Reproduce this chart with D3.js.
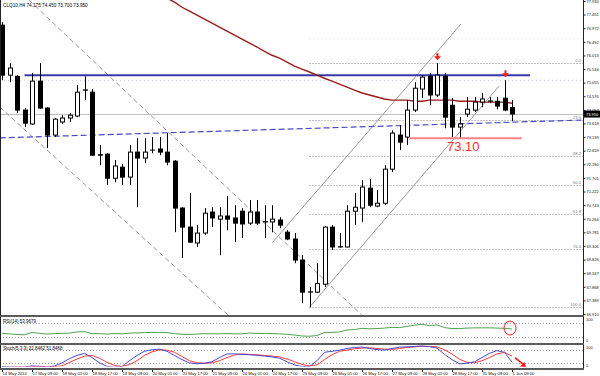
<!DOCTYPE html>
<html>
<head>
<meta charset="utf-8">
<style>
  body { margin: 0; background: #fff; }
  svg { display: block; font-family: "Liberation Sans", Arial, sans-serif; }
</style>
</head>
<body>
<script src="https://cdn.jsdelivr.net/npm/d3@7/dist/d3.min.js"></script>
<script>

// *** DATA ***

// CLQ10 H4 candles, one entry per bar (index 0 = 14 May 2010)
var opens  = [77.08,75.32,75.28,74.09,73.60,75.11,74.16,73.21,73.67,73.81,73.88,74.79,74.72,72.50,72.54,71.69,72.08,71.73,72.61,72.40,72.68,72.72,72.61,72.29,70.64,69.97,69.41,69.76,70.50,70.25,70.36,70.29,70.53,70.11,70.50,70.15,70.15,70.22,69.79,69.55,68.81,67.68,67.68,67.96,69.97,69.27,69.27,70.53,70.64,71.34,70.71,70.81,72.01,73.21,73.14,74.09,74.83,75.28,74.62,75.28,74.26,73.49,73.95,74.09,74.37,74.40,74.40,74.51,74.175];
var highs  = [77.19,75.74,75.32,74.16,75.39,75.74,74.19,73.81,73.91,73.98,74.97,75.28,74.83,72.86,72.56,72.33,72.19,72.86,73.10,73.10,73.14,73.14,73.28,72.33,70.67,71.17,70.04,70.64,70.67,70.67,71.06,70.74,70.64,70.92,70.92,70.74,70.74,70.32,69.86,69.76,68.98,67.86,68.70,70.01,70.04,69.76,70.74,71.17,71.62,71.66,71.27,72.15,73.38,73.56,74.44,75.07,75.32,75.39,75.74,75.39,74.51,73.84,74.55,74.55,74.69,74.55,74.55,75.14,74.45];
var lows   = [75.14,75.07,73.98,73.49,73.56,74.12,72.75,73.14,73.60,73.67,73.84,74.44,72.47,72.15,71.45,71.55,71.45,71.45,70.67,72.22,72.57,72.50,72.15,69.79,68.88,69.41,69.27,69.69,69.97,68.98,69.86,69.44,69.58,70.04,70.04,69.58,69.79,69.93,69.51,68.70,67.29,67.15,67.65,67.86,69.16,69.25,69.25,70.04,70.15,70.67,70.67,70.74,71.91,72.68,72.86,74.02,74.51,74.26,74.55,73.45,73.14,73.10,73.84,74.02,74.19,74.33,74.12,74.05,73.70];
var closes = [75.32,75.57,74.09,73.63,75.11,74.16,73.21,73.77,73.81,73.91,74.72,74.80,72.50,72.52,71.69,72.12,71.73,72.61,72.40,72.61,72.68,72.61,72.26,70.64,69.97,69.44,69.76,70.46,70.29,70.36,70.25,70.11,70.08,70.50,70.11,70.16,70.25,70.04,69.55,68.81,67.68,67.69,67.98,69.97,69.27,69.28,70.53,70.67,71.38,70.74,70.81,72.01,73.28,72.96,74.09,74.86,75.25,74.62,75.32,73.84,73.49,73.60,74.12,74.37,74.48,74.41,74.23,74.09,73.95];

// moving average (dark red), starts at bar 22
var maStart = 22;
var maValues = [78.03,77.89,77.71,77.57,77.43,77.29,77.15,77.01,76.87,76.73,76.59,76.45,76.31,76.16,76.02,75.92,75.78,75.64,75.53,75.43,75.32,75.21,75.11,75.00,74.90,74.79,74.69,74.62,74.55,74.48,74.44,74.44,74.44,74.40,74.40,74.44,74.44,74.44,74.44,74.40,74.40,74.40,74.37,74.37,74.37,74.37,74.33];

// RSI(14)
var rsiValues = [36,34,31,30,40,36,33,35,36,37,42,43,35,35,33,35,34,37,38,39,40,40,39,35,32,31,33,35,34,34,35,34,34,37,36,35,35,34,32,29,25,24,27,40,40,42,50,52,57,55,56,58,61,60,65,70,74,68,71,60,56,56,58,59,59,59,58,57,54];

// Stoch(5,3,3) main and signal
var stochMain   = [2,0,0,0,5,3,0,5,20,40,55,65,45,20,3,0,2,30,55,75,82,85,75,55,35,20,15,18,25,45,62,63,60,58,56,52,48,42,25,10,2,2,30,70,75,80,88,93,95,88,83,80,88,95,96,98,100,97,90,60,35,15,18,25,45,65,78,70,23];
var stochSignal = [0,0,0,0,2,3,2,2,5,22,38,52,55,42,22,8,2,12,30,55,72,82,80,70,50,30,20,18,20,30,45,57,62,60,58,55,52,48,38,25,12,5,10,35,58,75,80,87,90,92,88,85,84,88,93,96,98,98,96,82,62,37,22,20,30,45,62,70,52];

// price axis labels
var priceTicks = [66.910,67.389,67.868,68.347,68.826,69.306,69.785,70.264,70.743,71.222,71.701,72.180,72.659,73.139,73.618,74.097,74.576,75.055,75.534,76.013,76.492,76.972,77.451,77.930];

// time axis labels, every 4 bars
var timeLabels = ["14 May 2010","17 May 09:00","18 May 01:00","18 May 17:00","19 May 09:00","20 May 01:00","20 May 17:00","21 May 09:00","24 May 01:00","24 May 17:00","25 May 09:00","26 May 01:00","26 May 17:00","27 May 09:00","28 May 01:00","28 May 17:00","31 May 09:00","1 Jun 09:00"];

// Fibonacci retracement
var fibHigh = 75.76, fibLow = 67.15, fibStart = 41;
var fibLevels = [0, 23.6, 38.2, 50.0, 61.8, 76.4, 100.0];

// drawn objects (bar index, price)
var upChannel   = [{i1: 36, p1: 69.41, i2: 61.2, p2: 77.12}, {i1: 41, p1: 67.15, i2: 66.3, p2: 74.94}];
var downChannel = [{i1: 3.6, p1: 77.96, i2: 48.1, p2: 66.84}, {i1: -0.3, p1: 74.20, i2: 30.1, p2: 66.88}];
var longTrend   = {i1: -0.3, p1: 73.11, i2: 77.5, p2: 73.74};
var resistance  = {i1: 3, i2: 70.4, p: 75.32};
var support     = {i1: 54.3, i2: 69.3, p: 73.10};
var arrowBars   = [58, 67];

// *** LAYOUT ***

var W = 600, H = 376;
var plotR = 583;
var mainTop = 0, mainBot = 315;
var rsiTop = 318, rsiBot = 343;
var stTop = 345, stBot = 368;

var x = d3.scaleLinear().domain([0, 68]).range([2, 512]);
var y = d3.scaleLinear().domain([66.91, 77.93]).range([314, 1]);
var yR = d3.scaleLinear().domain([0, 100]).range([342, 318]);
var yS = d3.scaleLinear().domain([0, 100]).range([367, 346]);

var svg = d3.select("body").append("svg")
	.attr("width", W)
	.attr("height", H);

svg.append("rect").attr("width", W).attr("height", H).attr("fill", "#fff");

var defs = svg.append("defs");
defs.append("clipPath").attr("id", "clipMain")
	.append("rect").attr("x", 1).attr("y", mainTop).attr("width", plotR - 1).attr("height", mainBot - mainTop);
defs.append("clipPath").attr("id", "clipRsi")
	.append("rect").attr("x", 1).attr("y", rsiTop).attr("width", plotR - 1).attr("height", rsiBot - rsiTop);
defs.append("clipPath").attr("id", "clipSt")
	.append("rect").attr("x", 1).attr("y", stTop).attr("width", plotR - 1).attr("height", 21.6);

var gMain = svg.append("g").attr("clip-path", "url(#clipMain)");

function seg(g, o, color, width, dash) {
	g.append("line")
		.attr("x1", x(o.i1)).attr("y1", y(o.p1))
		.attr("x2", x(o.i2)).attr("y2", y(o.p2))
		.attr("stroke", color).attr("stroke-width", width)
		.attr("stroke-dasharray", dash || null);
}

// faint dotted object lines
gMain.append("line")
	.attr("x1", 0).attr("x2", plotR).attr("y1", y(75.14)).attr("y2", y(75.14))
	.attr("stroke", "#c4c4e6").attr("stroke-width", 1).attr("stroke-dasharray", "1,3");
gMain.append("line")
	.attr("x1", x(fibStart)).attr("x2", plotR).attr("y1", y(76.6)).attr("y2", y(76.6))
	.attr("stroke", "#d0d0ea").attr("stroke-width", 1).attr("stroke-dasharray", "1,3");

// fibonacci levels
fibLevels.forEach(function(lv) {
	var p = fibHigh - (fibHigh - fibLow) * lv / 100;
	var yy = Math.round(y(p)) + 0.5;
	gMain.append("line")
		.attr("x1", x(fibStart)).attr("x2", plotR).attr("y1", yy).attr("y2", yy)
		.attr("stroke", "#8a8a8a").attr("stroke-width", 1).attr("stroke-dasharray", "1,2");
	gMain.append("text")
		.attr("x", plotR - 2).attr("y", yy - 1.5)
		.attr("text-anchor", "end")
		.attr("font-size", 4.2).attr("fill", "#777")
		.text(lv.toFixed(1));
});

// bid line
gMain.append("line")
	.attr("x1", 0).attr("x2", plotR)
	.attr("y1", Math.round(y(closes[closes.length - 1])) + 0.5)
	.attr("y2", Math.round(y(closes[closes.length - 1])) + 0.5)
	.attr("stroke", "#c0c0c0").attr("stroke-width", 1);

// channels and trend lines
downChannel.forEach(function(o) { seg(gMain, o, "#9a9a9a", 1, "5,3"); });
upChannel.forEach(function(o) { seg(gMain, o, "#9a9a9a", 1); });
seg(gMain, longTrend, "#4a4ac4", 1.2, "6,3");

// resistance
gMain.append("line")
	.attr("x1", x(resistance.i1)).attr("x2", x(resistance.i2))
	.attr("y1", y(resistance.p)).attr("y2", y(resistance.p))
	.attr("stroke", "#3838a6").attr("stroke-width", 2);

// moving average
var maLine = d3.line()
	.x(function(d, k) { return x(maStart + k); })
	.y(function(d) { return y(d); });
gMain.append("path")
	.attr("d", maLine(maValues))
	.attr("fill", "none").attr("stroke", "#9b1b1b").attr("stroke-width", 1.4);

// candles
var bars = d3.range(opens.length);
gMain.selectAll(".wick").data(bars).enter().append("line")
	.attr("x1", function(i) { return Math.round(x(i)) + 0.5; })
	.attr("x2", function(i) { return Math.round(x(i)) + 0.5; })
	.attr("y1", function(i) { return y(highs[i]); })
	.attr("y2", function(i) { return y(lows[i]); })
	.attr("stroke", "#000").attr("stroke-width", 1);
gMain.selectAll(".body").data(bars).enter().append("rect")
	.attr("x", function(i) { return Math.round(x(i)) - 2 + 0.5; })
	.attr("y", function(i) { return y(Math.max(opens[i], closes[i])); })
	.attr("width", 4)
	.attr("height", function(i) { return Math.max(0.01, Math.abs(y(opens[i]) - y(closes[i]))); })
	.attr("fill", function(i) { return closes[i] >= opens[i] ? "#fff" : "#000"; })
	.attr("stroke", "#000").attr("stroke-width", 1);

// support line + label
gMain.append("line")
	.attr("x1", x(support.i1)).attr("x2", x(support.i2))
	.attr("y1", y(support.p)).attr("y2", y(support.p))
	.attr("stroke", "#ff8282").attr("stroke-width", 2);
gMain.append("text")
	.attr("x", 447).attr("y", y(support.p) + 13)
	.attr("font-size", 13).attr("fill", "#ff2b2b")
	.text(support.p.toFixed(2));

// red arrows over highs
arrowBars.forEach(function(i) {
	var cx = Math.round(x(i)) + 0.5, tip = y(highs[i]) - 3;
	gMain.append("path")
		.attr("d", "M" + (cx - 1) + "," + (tip - 7) + "h2v3h2.5l-3.5,4l-3.5,-4h2.5z")
		.attr("fill", "#f21d1d");
});

// header
svg.append("text")
	.attr("x", 3).attr("y", 7)
	.attr("font-size", 4.7).attr("fill", "#000")
	.text("CLQ10,H4  " + [opens, highs, lows, closes].map(function(a) { return a[a.length - 1].toFixed(3); }).join(" "));

// *** RSI PANEL ***
var gRsi = svg.append("g").attr("clip-path", "url(#clipRsi)");
[80, 20].forEach(function(lv) {
	gRsi.append("line")
		.attr("x1", 0).attr("x2", plotR).attr("y1", Math.round(yR(lv)) + 0.5).attr("y2", Math.round(yR(lv)) + 0.5)
		.attr("stroke", "#9a9a9a").attr("stroke-dasharray", "1,2");
});
gRsi.append("path")
	.attr("d", d3.line().x(function(d, i) { return x(i); }).y(function(d) { return yR(d); })(rsiValues))
	.attr("fill", "none").attr("stroke", "#4fa34f").attr("stroke-width", 1);
svg.append("ellipse")
	.attr("cx", x(68) - 2).attr("cy", yR(rsiValues[68]) - 1).attr("rx", 6).attr("ry", 7)
	.attr("fill", "none").attr("stroke", "#f21d1d").attr("stroke-width", 1);
svg.append("text").attr("x", 3).attr("y", 322.5).attr("font-size", 4.5).attr("fill", "#000")
	.text("RSI(14) 53.9679");

// *** STOCH PANEL ***
var gSt = svg.append("g").attr("clip-path", "url(#clipSt)");
[80, 20].forEach(function(lv) {
	gSt.append("line")
		.attr("x1", 0).attr("x2", plotR).attr("y1", Math.round(yS(lv)) + 0.5).attr("y2", Math.round(yS(lv)) + 0.5)
		.attr("stroke", "#9a9a9a").attr("stroke-dasharray", "1,2");
});
var stLine = d3.line().x(function(d, i) { return x(i); }).y(function(d) { return yS(d); });
gSt.append("path").attr("d", stLine(stochSignal))
	.attr("fill", "none").attr("stroke", "#ff3b3b").attr("stroke-width", 1);
gSt.append("path").attr("d", stLine(stochMain))
	.attr("fill", "none").attr("stroke", "#4848d0").attr("stroke-width", 1);
svg.append("text").attr("x", 3).attr("y", 349.5).attr("font-size", 4.5).attr("fill", "#000")
	.text("Stoch(5,3,3) 22.8462 51.8468");

// stoch arrow
var a1 = [x(68.4), yS(45)], a2 = [x(69.6), yS(10)];
svg.append("line")
	.attr("x1", a1[0]).attr("y1", a1[1]).attr("x2", a2[0]).attr("y2", a2[1])
	.attr("stroke", "#f21d1d").attr("stroke-width", 1.6);
svg.append("path")
	.attr("d", "M" + (a2[0] + 2) + "," + (a2[1] + 2) + "l-6,-0.5l4.5,-4.5z")
	.attr("fill", "#f21d1d");

// *** FRAMES AND AXES ***
svg.append("line").attr("x1", 0.5).attr("x2", 0.5).attr("y1", 0).attr("y2", stBot)
	.attr("stroke", "#222");
svg.append("line").attr("x1", plotR + 0.5).attr("x2", plotR + 0.5).attr("y1", 0).attr("y2", stBot)
	.attr("stroke", "#222");
[mainBot, rsiBot, stBot].forEach(function(yy) {
	svg.append("rect").attr("x", 0).attr("y", yy).attr("width", plotR + 1).attr("height", 2)
		.attr("fill", "#5a5a5a");
});

// price axis
var yAxis = d3.axisRight(y).tickValues(priceTicks).tickFormat(d3.format(".3f")).tickSize(2).tickPadding(1);
var gY = svg.append("g").attr("transform", "translate(" + (plotR + 0.5) + ",0)").call(yAxis);
gY.select(".domain").remove();
gY.selectAll("text").attr("font-size", 4).attr("fill", "#111").attr("font-family", "Liberation Sans, Arial, sans-serif");
gY.selectAll("line").attr("stroke", "#222");

// price box
var lastY = y(closes[closes.length - 1]);
svg.append("rect").attr("x", plotR + 1).attr("y", lastY - 3.5).attr("width", 16).attr("height", 7).attr("fill", "#000");
svg.append("text").attr("x", plotR + 3).attr("y", lastY + 1.5).attr("font-size", 4).attr("fill", "#fff")
	.text(closes[closes.length - 1].toFixed(3));

// indicator axes
[[yR, 100, "100"], [yR, 0, "0"], [yS, 100, "100"], [yS, 0, "0"]].forEach(function(t) {
	svg.append("text").attr("x", plotR + 3).attr("y", t[0](t[1]) + (t[1] ? 3 : -0.5))
		.attr("font-size", 4).attr("fill", "#111").text(t[2]);
});

// time axis
timeLabels.forEach(function(lb, k) {
	var xx = Math.round(x(k * 4)) + 0.5;
	svg.append("line").attr("x1", xx).attr("x2", xx).attr("y1", stBot + 2).attr("y2", stBot + 4)
		.attr("stroke", "#222");
	svg.append("text").attr("x", xx).attr("y", 374.5)
		.attr("font-size", 4.2).attr("fill", "#111").text(lb);
});

</script>
</body>
</html>
